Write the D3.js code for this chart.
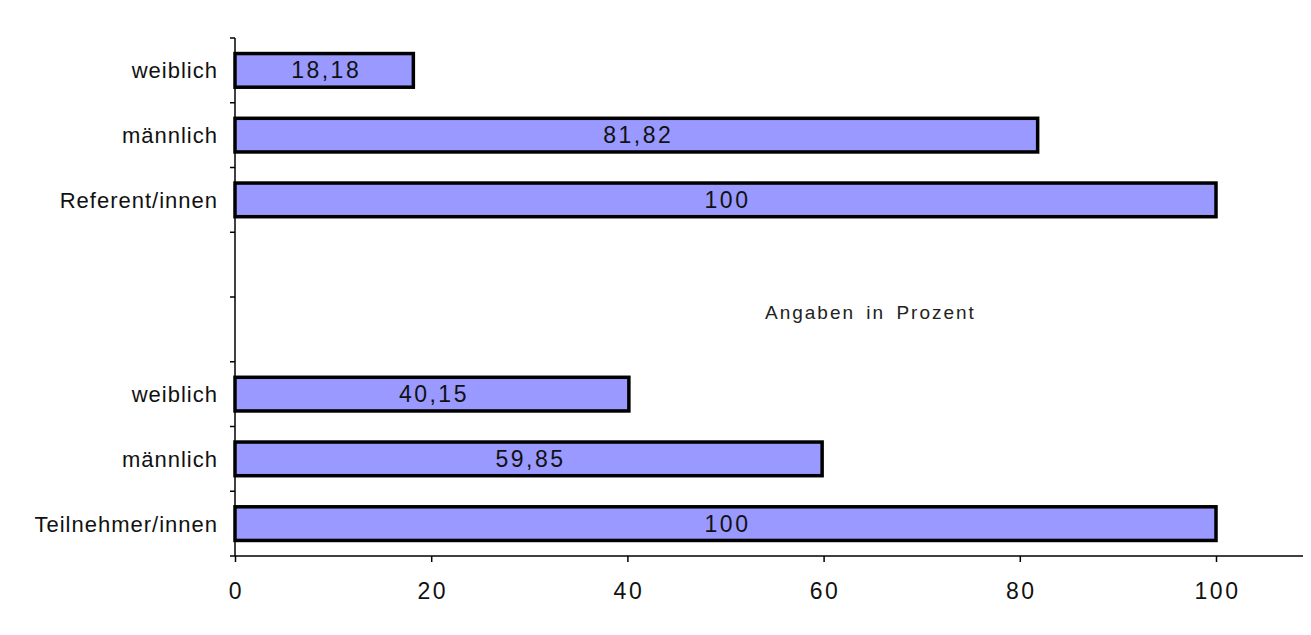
<!DOCTYPE html>
<html>
<head>
<meta charset="utf-8">
<script src="https://cdn.jsdelivr.net/npm/d3@7"></script>
<style>
  body { margin: 0; background: #fff; }
  svg { display: block; font-family: "Liberation Sans", Arial, sans-serif; }
</style>
</head>
<body>
<div id="chart"></div>
<script>
// categories from top to bottom, two blank rows split the groups
var categories = ["weiblich", "männlich", "Referent/innen", "", "", "weiblich", "männlich", "Teilnehmer/innen"];
var values = [18.18, 81.82, 100, null, null, 40.15, 59.85, 100];
var xTicks = [0, 20, 40, 60, 80, 100];
var note = "Angaben in Prozent";

var width = 1311, height = 635;
var margin = {top: 38, right: 8, bottom: 79, left: 235};

var svg = d3.select("#chart")
  .append("svg")
  .attr("width", width)
  .attr("height", height);

var g = svg.append("g")
  .attr("transform", "translate(" + margin.left + "," + margin.top + ")");

var innerW = width - margin.left - margin.right,
    innerH = height - margin.top - margin.bottom;

// x: 100 sits at 981px from the origin, axis runs on past it
var x = d3.scaleLinear()
  .domain([0, 100])
  .range([0, 981]);

var idx = d3.range(categories.length);
var y = d3.scaleBand()
  .domain(idx)
  .range([0, innerH])
  .padding(0);

var barH = y.bandwidth() * 0.52;

// bars
g.selectAll("rect.bar")
  .data(idx.filter(function(i) { return values[i] != null; }))
  .enter()
  .append("rect")
    .attr("class", "bar")
    .attr("x", x(0))
    .attr("y", function(i) { return y(i) + (y.bandwidth() - barH) / 2; })
    .attr("width", function(i) { return x(values[i]) - x(0); })
    .attr("height", barH)
    .style("fill", "#9999ff")
    .style("stroke", "#000")
    .style("stroke-width", 3.5);

// value labels in the bars
g.selectAll("text.val")
  .data(idx.filter(function(i) { return values[i] != null; }))
  .enter()
  .append("text")
    .attr("class", "val")
    .attr("x", function(i) { return x(values[i]) / 2 + 2; })
    .attr("y", function(i) { return y(i) + y.bandwidth() / 2 + 8; })
    .attr("text-anchor", "middle")
    .style("font-size", "23px")
    .style("letter-spacing", "2.5px")
    .style("fill", "#111")
    .text(function(i) { return String(values[i]).replace(".", ","); });

// x axis
var xAxis = g.append("g")
  .attr("transform", "translate(0," + innerH + ")")
  .call(d3.axisBottom(x).tickValues(xTicks).tickSize(6).tickSizeOuter(0).tickPadding(21));
xAxis.select(".domain").attr("d", "M0,0H" + innerW).style("stroke", "#000").style("stroke-width", 1.5);
xAxis.selectAll(".tick line").style("stroke", "#000").style("stroke-width", 1.5);
xAxis.selectAll(".tick text")
  .style("font-size", "23px")
  .style("letter-spacing", "2.5px")
  .style("font-family", "Liberation Sans, Arial, sans-serif")
  .attr("dx", "1px")
  .style("fill", "#111");

// y axis: line, ticks on band edges, labels centred in bands
var yAxis = g.append("g");
yAxis.append("line")
  .attr("x1", 0).attr("x2", 0)
  .attr("y1", 0).attr("y2", innerH)
  .style("stroke", "#000").style("stroke-width", 1.5);
var edges = idx.map(function(i) { return y(i); }).concat([innerH]);
yAxis.selectAll("line.tick")
  .data(edges)
  .enter()
  .append("line")
    .attr("class", "tick")
    .attr("x1", -5).attr("x2", 0)
    .attr("y1", function(d) { return d; })
    .attr("y2", function(d) { return d; })
    .style("stroke", "#000").style("stroke-width", 1.5);
yAxis.selectAll("text")
  .data(idx)
  .enter()
  .append("text")
    .attr("x", -17)
    .attr("y", function(i) { return y(i) + y.bandwidth() / 2 + 8; })
    .attr("text-anchor", "end")
    .style("font-size", "22px")
    .style("letter-spacing", "1px")
    .style("fill", "#111")
    .text(function(i) { return categories[i]; });

// note
svg.append("text")
  .attr("x", 765)
  .attr("y", 319)
  .style("font-size", "19px")
  .style("letter-spacing", "2px")
  .style("word-spacing", "4px")
  .style("fill", "#222")
  .text(note);
</script>
</body>
</html>
